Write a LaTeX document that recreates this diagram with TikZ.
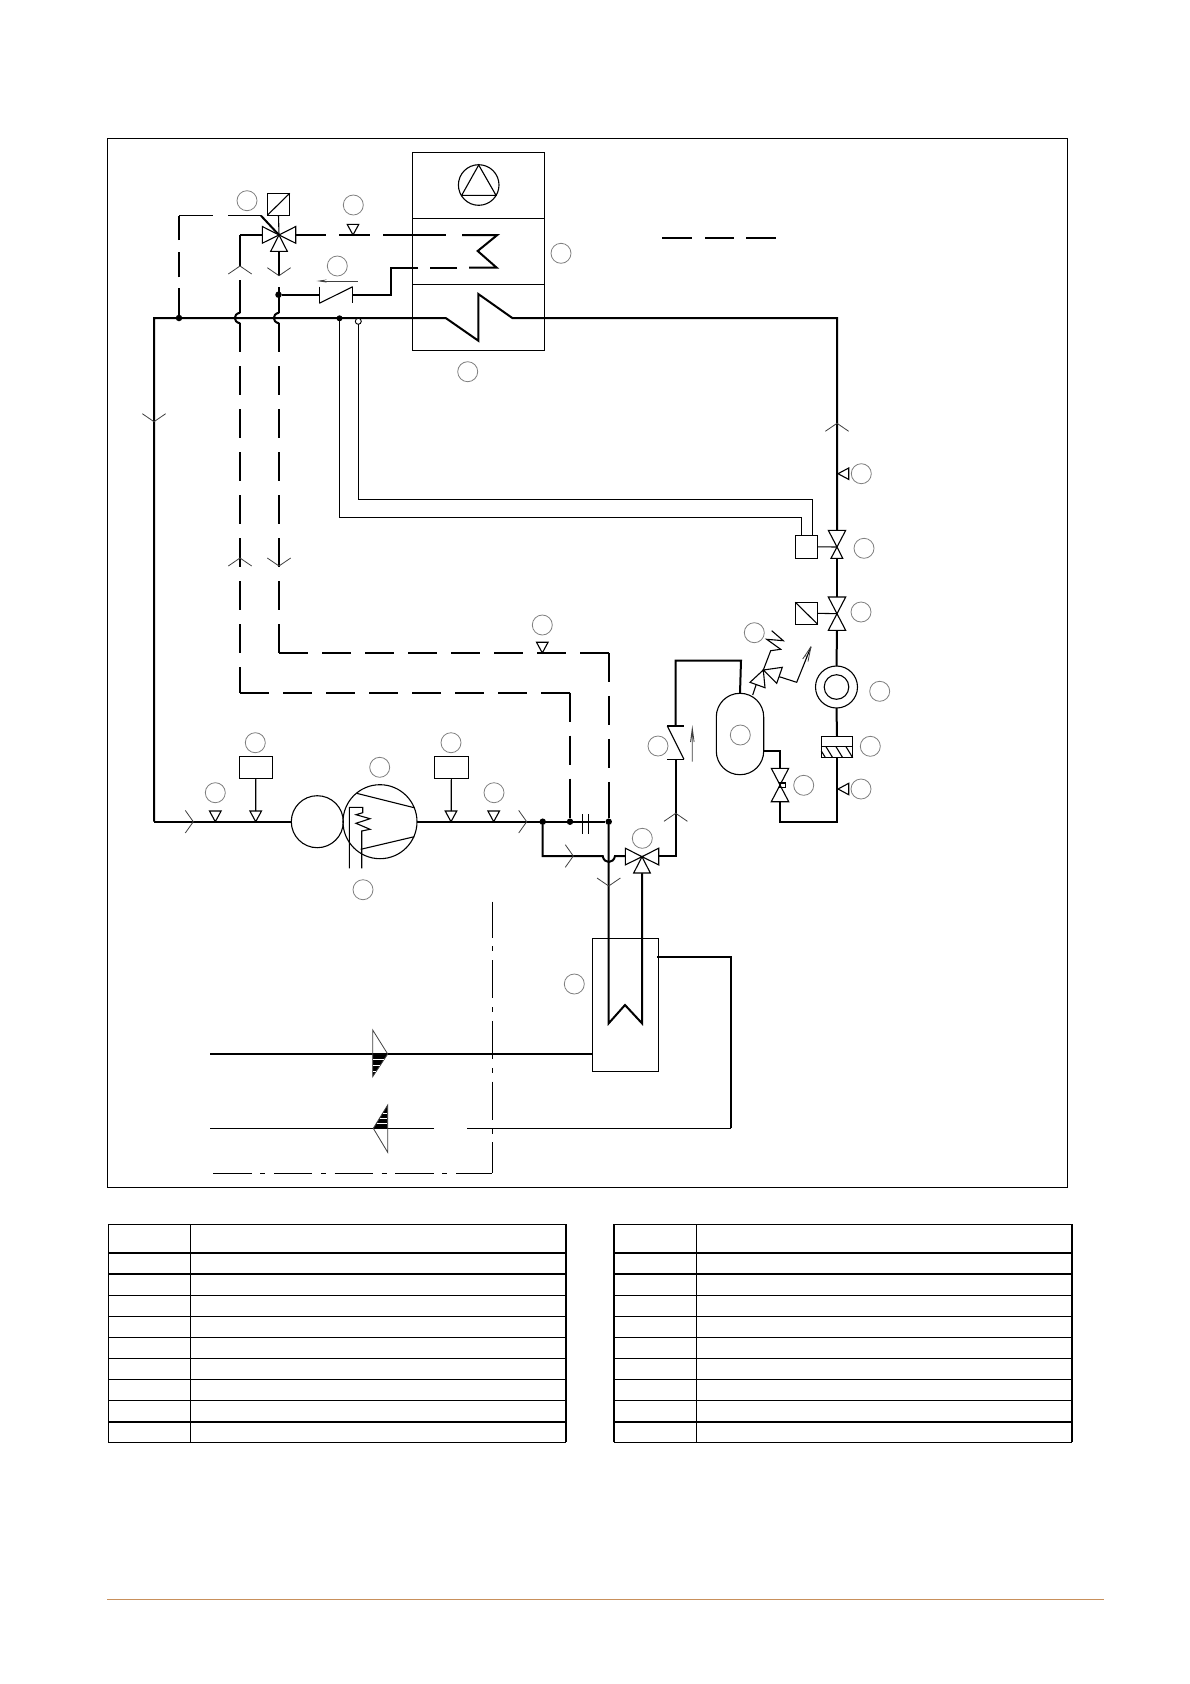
\documentclass[tikz,border=0pt]{standalone}
\usetikzlibrary{arrows.meta}
\definecolor{tagc}{HTML}{808080}
\definecolor{rulec}{HTML}{C8905C}
\tikzset{
  x=1pt,y=-1pt,
  pipe/.style={line width=2,line join=miter},
  fine/.style={line width=1.1},
  hair/.style={line width=.8,draw=black!75},
  tag/.style={circle,draw=tagc,line width=.8,minimum size=20,inner sep=0,outer sep=0},
  box/.style={rectangle,draw,line width=1.1,inner sep=0,outer sep=0},
  dot/.style={circle,fill=black,minimum size=6.5,inner sep=0,outer sep=0},
  odot/.style={circle,draw,fill=white,line width=.9,minimum size=6,inner sep=0,outer sep=0},
  dashpipe/.style={pipe,dash pattern=on 29 off 14},
  chevup/.pic={\draw[hair] (-11.7,8) -- (0,0) -- (11.7,8);},
  chevdown/.pic={\draw[hair] (-11.7,-8) -- (0,0) -- (11.7,-8);},
  chevright/.pic={\draw[hair] (-8,-11.3) -- (0,0) -- (-8,11.3);},
  sensdown/.pic={\draw[fine] (0,0) -- (-5.8,-10.7) -- (5.8,-10.7) -- cycle;},
  sensleft/.pic={\draw[fine] (0,0) -- (10.7,-5.7) -- (10.7,5.7) -- cycle;},
  valvethree/.pic={\draw[fine,fill=white] (0,0) -- (-16.7,-8.5) -- (-16.7,8.2) -- cycle;
    \draw[fine,fill=white] (0,0) -- (16.7,-8.5) -- (16.7,8.2) -- cycle;
    \draw[fine,fill=white] (0,0) -- (-8.3,16.3) -- (8.3,16.3) -- cycle;},
  valvetwo/.pic={\draw[fine,fill=white] (0,0) -- (-8.7,-16.7) -- (8.7,-16.7) -- cycle;
    \draw[fine,fill=white] (0,0) -- (-8.7,16.7) -- (8.7,16.7) -- cycle;},
}
\begin{document}
\begin{tikzpicture}
\useasboundingbox (0,0) rectangle (1190,1684);
\fill[white] (0,0) rectangle (1190,1684);
% frame and footer rule
\draw[line width=1.1] (107.6,138.7) rectangle (1067.3,1187.3);
\draw[rulec,line width=1] (107,1599) -- (1103.7,1599);

% named junctions
\coordinate (cSW) at (154,821.7);
\coordinate (cNW) at (154,318);
\coordinate (hA) at (445.7,318);
\coordinate (hB) at (478.3,340.7);
\coordinate (hC) at (478.3,294);
\coordinate (hD) at (512.3,318);
\coordinate (cNE) at (837,318);
\coordinate (tevT) at (837,530.3);
\coordinate (tevB) at (837,558.3);
\coordinate (tev) at (837,547);
\coordinate (solT) at (837,597);
\coordinate (solB) at (837,630.7);
\coordinate (sol) at (837,613.7);
\coordinate (cSE) at (837,821.7);
\coordinate (rvB) at (780,801.7);
\coordinate (rvT) at (780,768.3);
\coordinate (rv) at (780,785);
\coordinate (v3a) at (279,235);
\coordinate (v3b) at (642,856.7);

% air unit
\node[box,minimum width=132,minimum height=66] (fan) at (478.3,185.3) {};
\node[box,minimum width=132,minimum height=66] (cool) at (478.3,251.3) {};
\node[box,minimum width=132,minimum height=66] (heat) at (478.3,317.3) {};
\draw[fine] (478.7,185) circle [radius=20.3];
\draw[fine] (478.7,165) -- (461.7,195.3) -- (496,195.3) -- cycle;

% main refrigerant loop
\draw[pipe] (cSW) -- (cNW) -- (hA) -- (hB) -- (hC) -- (hD) -- (cNE) -- (tevT);
\draw[pipe] (tevB) -- (solT);
\node[circle,draw,line width=1.1,minimum size=42,inner sep=0,outer sep=0] (sg) at (836.5,687) {};
\node[circle,draw,line width=1.1,minimum size=24.6,inner sep=0,outer sep=0] (sgi) at (836.5,687) {};
\draw[pipe] (solB) -- (sg.north);
\node[box,minimum width=31.4,minimum height=21.4] (flt) at (837,747) {};
\draw[fine] (821.3,746.7) -- (852.7,746.7);
\foreach \a in {826,836,846}{\draw[fine] (\a,746.7) -- (\a+6.7,757.7);}
\draw[fine] (821.3,751) -- (825.5,757.7);
\draw[pipe] (sg.south) -- (flt.north);
\draw[pipe] (flt.south) -- (cSE) -- (780,821.7) -- (rvB);
\draw[fine,fill=white] (tev) -- (828.3,530.3) -- (845.7,530.3) -- cycle;
\draw[fine,fill=white] (tev) -- (831,558.3) -- (842.7,558.3) -- cycle;
\pic at (sol) {valvetwo};
\pic at (rv) {valvetwo};
\draw[fine] (780,783) rectangle (785.3,787.3);
\node[box,minimum width=22.4,minimum height=23] (bulb) at (806.5,546.8) {};
\draw[fine] (bulb.east) -- (tev);
\node[box,minimum width=22.4,minimum height=22] (solact) at (806.5,613.3) {};
\draw[fine] (solact.north west) -- (solact.south east);
\draw[fine] (solact.east) -- (sol);
% capillaries
\node[dot,minimum size=6] (tapA) at (339.5,318.3) {};
\node[odot] (tapB) at (358.3,321.3) {};
\coordinate (capA) at (801.7,517.3);
\coordinate (capB) at (812.7,499.3);
\draw[fine] (tapA) -- (339.5,517.3) -- (capA) -- (801.7,535.3);
\draw[fine] (tapB) -- (358.3,499.3) -- (capB) -- (812.7,535.3);

% receiver and relief
\node[draw,line width=1.1,rounded corners=23.6,minimum width=47.4,minimum height=81.4,inner sep=0,outer sep=0] (rec) at (740,734) {};
\draw[pipe] (rvT) -- (780,750.7) -- (rec.east |- 0,750.7);
\draw[pipe] (rec.north) -- (741,660.7) -- (675.7,660.7) -- (675.7,726);
\draw[fine] (667.3,726) -- (684,726);
\draw[fine] (667.3,726) -- (684,759.3);
\draw[fine] (667,759.3) -- (684,759.3);
\draw[pipe] (675.7,759.3) -- (675.7,856) -- (658.7,856);
\draw[hair] (692.3,761.7) -- (692.3,728.3) (690.5,742) -- (692.3,728.3) -- (694.1,742);
\draw[fine] (752.7,695) -- (756,685);
\draw[fine] (763.3,670) -- (750,682.3) -- (765,687.7) -- cycle;
\draw[fine] (763.3,670) -- (782.3,667.3) -- (776.7,683.3) -- cycle;
\draw[fine] (763.3,670) -- (770.7,650.7) -- (780.7,649.3) -- (766.7,639.3) -- (783.3,640.7) -- (771.7,630.7);
\draw[fine] (779.3,676.7) -- (796.7,682.3) -- (811,646.7);
\draw[hair] (811,646.7) -- (802.7,659) (811,646.7) -- (808,661.5) (804.6,655.5) -- (807.8,656.8);

% pipe chevrons, sensors on right side
\pic at (154,421.7) {chevdown};
\pic at (837,423.3) {chevup};
\pic at (838,473.7) {sensleft};
\pic at (838,789) {sensleft};
\pic at (675.7,813.3) {chevup};

% hot gas dashed branch and cooling coil
\draw[pipe] (295.7,235) -- (326,235);
\draw[pipe] (339,235) -- (370,235);
\draw[pipe] (383.3,235) -- (445.7,235);
\draw[pipe] (462,235) -- (497.3,235) -- (477.7,251) -- (496.7,267.7) -- (469,267.7);
\draw[pipe] (457,267.7) -- (430,267.7);
\draw[pipe] (418,267.7) -- (391,267.7) -- (391,294.7) -- (352.7,294.7);
\node[dot] (jB) at (278.5,294.7) {};
\draw[pipe] (jB) -- (320,294.7);
\draw[fine] (319.3,286.7) -- (319.3,303.3);
\draw[fine] (352.7,286.7) -- (352.7,303.3);
\draw[fine] (319.3,303.3) -- (352.7,286.7);
\draw[hair,-{Stealth[length=10,width=3]}] (357.7,281) -- (316.7,281);
\pic at (353,235) {sensdown};

% dashed loop up to the three-way valve
\node[dot] (jA) at (179,318) {};
\draw[pipe] (jA) -- (179,288.3);
\draw[pipe] (179,277.3) -- (179,252.3);
\draw[pipe] (179,240) -- (179,215.7);
\draw[fine] (179,215.7) -- (213.3,215.7);
\draw[fine] (228.3,215.7) -- (261,215.7);
\draw[pipe] (261,215.7) -- (v3a);
\draw[pipe] (240,235) -- (262.7,235);
\draw[pipe] (240,235) -- (240,266);
\draw[pipe] (240,280) -- (240,312.7);
\draw[pipe] (240,312.7) .. controls (233,314) and (233,322) .. (240,323.3);
\draw[pipe] (279,287.3) -- (279,312.7);
\draw[pipe] (279,312.7) .. controls (272,314) and (272,322) .. (279,323.3);
\draw[fine] (279,251) -- (279,275.7);
\pic at (240,266) {chevup};
\pic at (279,275.7) {chevdown};
\pic at (v3a) {valvethree};
\node[box,minimum width=22.4,minimum height=22] (act) at (278.5,204.3) {};
\draw[fine] (act.south west) -- (act.north east);
\draw[fine] (act.south) -- (v3a);

\coordinate (dLa) at (240,692.6);
\coordinate (dLb) at (570,692.6);
\coordinate (dUa) at (279,652.9);
\coordinate (dUb) at (608.7,652.9);
\draw[dashpipe] (240,323.3) -- (dLa);
\draw[dashpipe] (dLa) -- (dLb);
\draw[dashpipe] (dLb) -- (570,792);
\draw[dashpipe] (279,323.3) -- (dUa);
\draw[dashpipe] (dUa) -- (dUb);
\draw[dashpipe] (dUb) -- (608.7,792);
\pic at (240,558) {chevup};
\pic at (279,566) {chevdown};
\pic at (542.3,652.9) {sensdown};

% legend dash
\draw[pipe] (662,237.7) -- (692,237.7);
\draw[pipe] (705,237.7) -- (734,237.7);
\draw[pipe] (746,237.7) -- (776,237.7);

% compressor line
\node[circle,draw,line width=1.1,minimum size=52,inner sep=0,outer sep=0] (mot) at (317.3,821.7) {};
\node[circle,draw,line width=1.1,minimum size=74,inner sep=0,outer sep=0] (comp) at (380,821.7) {};
\draw[fine] (356.7,793.3) -- (414.3,807.7);
\draw[fine] (360.7,849.3) -- (414.3,836.7);
\draw[fine] (349.3,868.3) -- (349.3,807.3) -- (362.7,807.3) -- (362.7,812.7) -- (356,814.7) -- (370,818.7) -- (356,823.3) -- (370,829.3) -- (361.7,831) -- (361.7,868.3);
\draw[pipe] (cSW) -- (mot.west);
\node[dot] (jC) at (542.7,821.7) {};
\node[dot] (jD) at (570,821.7) {};
\node[dot] (jE) at (608.7,821.7) {};
\draw[pipe] (comp.east) -- (jE);
\draw[pipe] (570,792) -- (jD);
\draw[pipe] (608.7,792) -- (jE);
\draw[fine] (582.3,814) -- (582.3,834);
\draw[fine] (588.3,814) -- (588.3,834);
\pic at (193.3,821.7) {chevright};
\pic at (526.7,821.7) {chevright};
\pic at (215.3,821.7) {sensdown};
\pic at (493.7,821.7) {sensdown};
\node[box,minimum width=33,minimum height=22] (pl) at (255.8,767.3) {};
\node[box,minimum width=34,minimum height=22] (ph) at (451.3,767.3) {};
\pic at (255.7,821.7) {sensdown};
\pic at (451,821.7) {sensdown};
\draw[fine] (pl.south) -- (255.7,811);
\draw[fine] (ph.south) -- (451.2,811);

% lower branch, second three-way valve, condenser
\draw[pipe] (jC) -- (542.7,856) -- (602.7,856) .. controls (604,864) and (613.5,864) .. (615,856) -- (625.3,856);
\draw[pipe] (jE) -- (608.7,1023.3) -- (625,1005) -- (642,1023.3) -- (642,873);
\pic at (573.3,856) {chevright};
\pic at (608.7,886) {chevdown};
\pic at (v3b) {valvethree};
\node[box,minimum width=65.6,minimum height=133] (cond) at (625.5,1004.8) {};
\draw[pipe] (657.3,956.7) -- (731,956.7) -- (731,1128.3);
\draw[fine] (731,1128.3) -- (467.3,1128.3);
\draw[fine] (434,1128.3) -- (210,1128.3);
\draw[pipe] (210,1054) -- (cond.west |- 0,1054);

% water direction arrows
\fill (372.7,1054) -- (387.7,1054) -- (372.7,1076.7) -- cycle;
\draw[hair] (372.7,1030) -- (387.7,1054) -- (372.7,1076.7) -- cycle;
\foreach \yy/\xe in {1059.3/384,1065/380,1071/376}{\draw[white,line width=.8] (373.2,\yy) -- (\xe,\yy);}
\fill (387.7,1128.3) -- (373.3,1128.3) -- (387.7,1105) -- cycle;
\draw[hair] (387.7,1105) -- (373.3,1128.3) -- (387.7,1152.3) -- cycle;
\foreach \yy/\xs in {1113.3/383,1118.3/380,1123.3/377}{\draw[white,line width=.8] (\xs,\yy) -- (387.2,\yy);}

% boundary line
\draw[fine,dash pattern=on 38.3 off 8.7 on 5 off 8.7,dash phase=2.3] (492.3,901.7) -- (492.3,1173.3);
\draw[fine,dash pattern=on 38.3 off 8.7 on 5 off 8.7] (213.3,1173.3) -- (492.3,1173.3);

% numbered tags
\foreach \n/\p in {a/{247,200.7},b/{353.3,205},c/{561,253.3},d/{467.7,371.7},e/{337.3,266},
  f/{861.3,473.7},g/{864,548.3},h/{861,612},i/{879.7,691.3},j/{870.3,746.3},k/{861,789},
  l/{803.7,785.3},m/{754.3,632.7},n/{658,746},o/{740.3,735},p/{542.3,625},q/{215.3,792.7},
  r/{255.3,742.7},s/{379.7,767.3},t/{451,742.7},u/{494,792.7},v/{363,889.7},w/{642.3,838.3},y/{574.3,984}}{
  \node[tag] (tag\n) at (\p) {};
}

% tables
\foreach \xa/\xb/\xc/\lw/\rw in {108.3/190.3/566/1.2/1.8,613.7/696.3/1072/1.8/1.8}{
  \foreach \yy in {1295.3,1316.3,1337.3,1358.3,1379.3,1400.3}{\draw[line width=1.1] (\xa,\yy) -- (\xc,\yy);}
  \foreach \yy in {1252.7,1273.7,1421.7}{\draw[line width=2] (\xa,\yy) -- (\xc,\yy);}
  \draw[line width=1.1] (\xb,1224.3) -- (\xb,1442.3);
  \draw[line width=1.1] (\xa,1224.3) -- (\xc,1224.3);
  \draw[line width=1.1] (\xa,1442.3) -- (\xc,1442.3);
  \draw[line width=\lw] (\xa,1224.3) -- (\xa,1442.3);
  \draw[line width=\rw] (\xc,1224.3) -- (\xc,1442.3);
}
\end{tikzpicture}
\end{document}
